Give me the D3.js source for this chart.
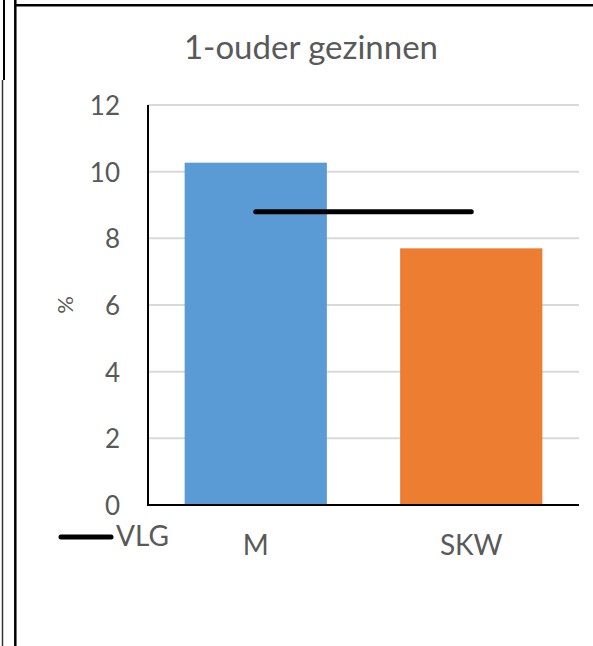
<!DOCTYPE html>
<html>
<head>
<meta charset="utf-8">
<script src="https://cdn.jsdelivr.net/npm/d3@7"></script>
<style>
  body { margin: 0; background: #fff; }
  svg { display: block; font-family: Lato, "Open Sans", sans-serif; }
</style>
</head>
<body>
<div id="chart"></div>
<script>
// data
const categories = ['M', 'SKW'];
const values = [10.27, 7.7];
const vlg = 8.8;
const yTicks = [0, 2, 4, 6, 8, 10, 12];
const title = '1-ouder gezinnen';

const W = 593, H = 646;
const margin = { left: 148, right: 14, top: 105, bottom: 141 };
const font = 'Lato, "Open Sans", sans-serif';

const svg = d3.select('#chart').append('svg')
  .attr('width', W)
  .attr('height', H);

// frame lines (chart box edges)
svg.append('line').attr('x1', 4).attr('y1', 0).attr('x2', 4).attr('y2', 80)
  .attr('stroke', '#000').attr('stroke-width', 2);
svg.append('line').attr('x1', 2.5).attr('y1', 80).attr('x2', 2.5).attr('y2', H)
  .attr('stroke', '#333').attr('stroke-width', 1.5);
svg.append('line').attr('x1', 15.3).attr('y1', 0).attr('x2', 15.3).attr('y2', H)
  .attr('stroke', '#000').attr('stroke-width', 2.5);
svg.append('line').attr('x1', 14).attr('y1', 5.3).attr('x2', W).attr('y2', 5.3)
  .attr('stroke', '#000').attr('stroke-width', 2.5);

const x = d3.scaleBand()
  .domain(categories)
  .range([margin.left, W - margin.right])
  .paddingInner(0.34)
  .paddingOuter(0.17);

const y = d3.scaleLinear()
  .domain([0, 12])
  .range([H - margin.bottom, margin.top]);

// gridlines
svg.append('g')
  .selectAll('line')
  .data(yTicks.filter(d => d > 0))
  .enter()
  .append('line')
  .attr('x1', margin.left)
  .attr('x2', W - margin.right)
  .attr('y1', d => y(d))
  .attr('y2', d => y(d))
  .attr('stroke', '#d9d9d9')
  .attr('stroke-width', 2);

// y axis labels
const yAxis = d3.axisLeft(y).tickValues(yTicks).tickSize(0).tickPadding(28);
const gy = svg.append('g')
  .attr('transform', `translate(${margin.left},0)`)
  .call(yAxis)
  .attr('font-family', font)
  .attr('font-size', 26);
gy.select('.domain').remove();
gy.selectAll('text')
  .attr('fill', '#595959')
  .attr('dy', '0.36em');

// bars
const colors = ['#5b9bd5', '#ed7d31'];
svg.append('g')
  .selectAll('rect')
  .data(values)
  .enter()
  .append('rect')
  .attr('x', (d, i) => x(categories[i]))
  .attr('width', x.bandwidth())
  .attr('y', d => y(d))
  .attr('height', d => y(0) - y(d))
  .attr('fill', (d, i) => colors[i]);

// axis lines
svg.append('line')
  .attr('x1', margin.left).attr('x2', margin.left)
  .attr('y1', y(12)).attr('y2', y(0) + 1)
  .attr('stroke', '#000').attr('stroke-width', 2);
svg.append('line')
  .attr('x1', margin.left - 1).attr('x2', W - margin.right)
  .attr('y1', y(0)).attr('y2', y(0))
  .attr('stroke', '#000').attr('stroke-width', 2);

// VLG line between category centres
const cx = c => x(c) + x.bandwidth() / 2;
svg.append('line')
  .attr('x1', cx(categories[0]))
  .attr('x2', cx(categories[categories.length - 1]))
  .attr('y1', y(vlg))
  .attr('y2', y(vlg))
  .attr('stroke', '#000')
  .attr('stroke-width', 5)
  .attr('stroke-linecap', 'round');

// category labels
svg.append('g')
  .selectAll('text')
  .data(categories)
  .enter()
  .append('text')
  .attr('x', d => cx(d))
  .attr('y', 555)
  .attr('text-anchor', 'middle')
  .attr('fill', '#595959')
  .style('font-size', '28px')
  .text(d => d);

// title
svg.append('text')
  .attr('x', 311)
  .attr('y', 59)
  .attr('text-anchor', 'middle')
  .attr('fill', '#595959')
  .style('font-size', '33px')
  .text(title);

// y axis title
svg.append('text')
  .attr('transform', 'translate(73,305) rotate(-90)')
  .attr('text-anchor', 'middle')
  .attr('fill', '#595959')
  .style('font-size', '22px')
  .text('%');

// legend
svg.append('line')
  .attr('x1', 61).attr('x2', 111)
  .attr('y1', 537).attr('y2', 537)
  .attr('stroke', '#000')
  .attr('stroke-width', 5)
  .attr('stroke-linecap', 'round');
svg.append('text')
  .attr('x', 116)
  .attr('y', 546)
  .attr('fill', '#595959')
  .style('font-size', '28px')
  .text('VLG');
</script>
</body>
</html>
